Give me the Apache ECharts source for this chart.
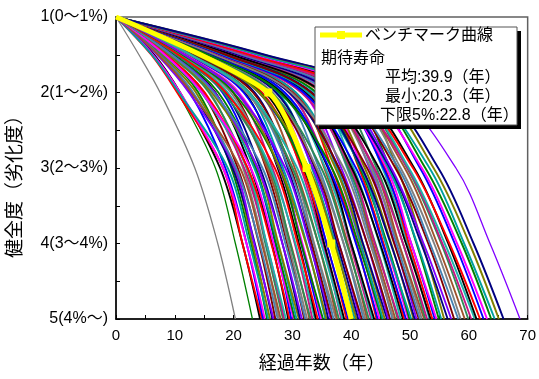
<!DOCTYPE html>
<html>
<head>
<meta charset="utf-8">
<script src="https://cdn.jsdelivr.net/npm/echarts@6.0.0/dist/echarts.min.js"></script>
<style>
  html, body { margin: 0; padding: 0; background: #fff; }
  #main { width: 539px; height: 379px; }
</style>
</head>
<body>
<div id="main"></div>
<script>
// 健全度 (y) の目盛とラベル
const tickGrades = [1, 2, 3, 4, 5];
const gradeLabels = ['1(0～1%)', '2(1～2%)', '3(2～3%)', '4(3～4%)', '5(4%～)'];

// ベンチマーク曲線: 健全度1～5 に達する経過年数
const benchmarkGrades = [1, 2, 3, 4, 5];
const benchmarkYears = [0, 25.9, 32.4, 36.6, 40.0];

// 各劣化曲線: 健全度 1.5, 2, 3, 4, 5 に達する年数 (健全度1 は0年)
const curveGrades = [1, 1.5, 2, 3, 4, 5];
const lifeCurves = [
  [3.9, 7.5, 13.4, 17.3, 20.3], [6.2, 10.5, 16.9, 20.3, 23.2], [24.3, 46.8, 57.8, 63.6, 68.7],
  [6.5, 10.9, 17.7, 21.5, 24.5], [6.0, 10.4, 18.2, 21.5, 24.8], [7.2, 12.6, 18.6, 22.2, 25.0], [6.3, 10.9, 18.2, 22.2, 25.3],
  [8.0, 14.0, 19.6, 23.0, 25.7], [6.1, 10.7, 19.0, 22.7, 25.9], [7.7, 13.6, 20.0, 23.2, 26.2], [7.4, 13.0, 19.8, 23.6, 26.6],
  [7.0, 12.4, 20.2, 23.5, 26.8], [8.3, 14.7, 20.7, 24.3, 27.1], [7.4, 13.1, 20.4, 24.4, 27.5], [9.1, 16.0, 21.6, 25.0, 27.7],
  [7.2, 12.8, 21.1, 24.8, 28.0], [8.9, 15.8, 22.2, 25.4, 28.4], [8.5, 15.0, 21.8, 25.6, 28.6], [8.2, 14.5, 22.3, 25.6, 28.9],
  [9.6, 16.9, 22.9, 26.5, 29.3], [8.5, 15.1, 22.4, 26.4, 29.5], [10.2, 18.1, 23.7, 27.1, 29.8],
  [8.3, 14.6, 22.9, 26.8, 30.2], [9.8, 17.4, 23.8, 27.2, 30.4], [9.4, 16.7, 23.5, 27.5, 30.7], [9.2, 16.3, 24.1, 27.6, 31.1],
  [10.4, 18.5, 24.5, 28.3, 31.3], [9.5, 16.8, 24.1, 28.3, 31.6], [11.2, 19.9, 25.5, 29.1, 32.0], [9.4, 16.6, 24.9, 28.8, 32.2],
  [11.0, 19.5, 25.9, 29.3, 32.5], [10.7, 18.9, 25.7, 29.7, 32.9], [10.3, 18.3, 26.1, 29.6, 33.1], [11.6, 20.6, 26.6, 30.4, 33.4],
  [10.7, 19.0, 26.3, 30.5, 33.8], [12.3, 21.9, 27.5, 31.1, 34.0], [10.6, 18.7, 27.0, 30.9, 34.3], [12.2, 21.7, 28.1, 31.5, 34.7],
  [11.8, 20.9, 27.7, 31.7, 34.9],
  [11.3, 20.0, 27.8, 31.5, 35.2], [12.6, 22.4, 28.4, 32.4, 35.6], [11.6, 20.6, 27.9, 32.3, 35.8], [13.3, 23.6, 29.2, 33.0, 36.1],
  [11.6, 20.5, 28.8, 32.9, 36.5], [13.1, 23.3, 29.7, 33.3, 36.7], [12.7, 22.6, 29.4, 33.6, 37.0], [12.5, 22.2, 30.0, 33.7, 37.4],
  [13.7, 24.4, 30.4, 34.4, 37.6], [12.8, 22.7, 30.0, 34.4, 37.9], [14.5, 25.8, 31.4, 35.2, 38.3], [12.7, 22.5, 30.8, 34.9, 38.5],
  [14.3, 25.4, 31.8, 35.4, 38.8], [14.0, 24.8, 31.6, 35.8, 39.2], [13.7, 24.3, 32.1, 35.8, 39.5], [14.9, 26.5, 32.5, 36.5, 39.7],
  [13.8, 24.5, 32.0, 36.6, 40.3], [15.5, 27.5, 33.3, 37.3, 40.6], [13.7, 24.3, 32.8, 37.1, 40.9], [15.3, 27.2, 33.8, 37.6, 41.2],
  [14.9, 26.5, 33.5, 37.9, 41.5], [14.6, 26.0, 34.0, 37.9, 41.8], [15.9, 28.3, 34.5, 38.7, 42.1], [15.0, 26.6, 34.1, 38.7, 42.4],
  [16.7, 29.6, 35.4, 39.4, 42.7], [14.9, 26.4, 34.9, 39.2, 43.0], [16.6, 29.4, 36.0, 39.8, 43.4], [16.1, 28.6, 35.6, 40.0, 43.6],
  [15.8, 28.1, 36.1, 40.0, 43.9], [17.2, 30.5, 36.7, 40.9, 44.3], [16.2, 28.7, 36.2, 40.8, 44.5], [17.9, 31.7, 37.5, 41.5, 44.8],
  [15.7, 27.8, 36.7, 41.2, 45.2], [17.2, 30.6, 37.6, 41.6, 45.4], [16.9, 29.9, 37.3, 41.9, 45.7], [16.6, 29.5, 37.9, 42.0, 46.1],
  [17.9, 31.7, 38.3, 42.7, 46.3], [16.9, 30.0, 37.9, 42.7, 46.6], [18.6, 33.1, 39.3, 43.5, 47.0], [16.8, 29.8, 38.7, 43.2, 47.2],
  [18.4, 32.7, 39.7, 43.7, 47.5], [18.1, 32.1, 39.5, 44.1, 47.9], [17.7, 31.5, 39.9, 44.0, 48.1], [19.0, 33.8, 40.4, 44.8, 48.4],
  [18.1, 32.2, 40.1, 44.9, 48.8], [19.8, 35.1, 41.3, 45.5, 49.0], [18.0, 31.9, 40.8, 45.3, 49.3], [19.7, 34.9, 41.9, 45.9, 49.7],
  [19.2, 34.1, 41.5, 46.1, 49.9],
  [18.4, 32.7, 41.7, 45.9, 50.2], [19.8, 35.1, 42.3, 46.8, 50.6], [18.8, 33.3, 41.8, 46.7, 50.8], [20.4, 36.3, 43.1, 47.4, 51.1],
  [18.7, 33.2, 42.7, 47.3, 51.5], [20.3, 36.0, 43.6, 47.7, 51.7], [19.9, 35.3, 43.3, 48.0, 52.0], [19.7, 34.9, 43.9, 48.1, 52.4],
  [20.9, 37.1, 44.3, 48.8, 52.6], [19.9, 35.4, 43.9, 48.8, 52.9], [21.7, 38.5, 45.3, 49.6, 53.3], [19.8, 35.2, 44.7, 49.3, 53.5],
  [21.5, 38.1, 45.7, 49.8, 53.8], [21.1, 37.5, 45.5, 50.2, 54.2], [20.8, 37.0, 46.0, 50.2, 54.5], [22.2, 39.4, 46.6, 51.1, 54.9],
  [21.3, 37.8, 46.3, 51.2, 55.3], [23.1, 41.0, 47.8, 52.1, 55.8],
  [20.8, 37.0, 46.6, 51.9, 56.4], [21.4, 38.0, 46.8, 52.3, 57.0], [21.6, 38.3, 47.5, 53.1, 57.5], [21.5, 38.2, 48.0, 53.4, 58.2],
  [22.4, 39.8, 48.4, 54.1, 58.6], [22.4, 39.7, 49.1, 54.6, 59.3], [22.8, 40.5, 49.5, 55.3, 59.9],
  [22.2, 39.4, 49.6, 55.5, 60.4], [22.9, 40.6, 49.8, 55.9, 61.0], [23.1, 41.1, 50.7, 56.5, 61.3], [22.8, 40.5, 50.5, 56.7, 61.9],
  [24.0, 42.7, 51.7, 57.6, 62.5], [23.8, 42.2, 52.0, 58.0, 63.1], [24.4, 43.3, 52.6, 58.8, 63.8], [24.3, 43.2, 53.3, 59.2, 64.4],
  [25.1, 44.5, 54.0, 60.1, 65.1], [25.3, 45.0, 54.8, 60.8, 65.9]
];

const specialColors = ['#808080', '#008000', '#8000ff'];
const palette = ['#000000', '#ff0000', '#0000ff', '#ff00ff', '#008000', '#00a0a0', '#808000', '#000080',
  '#8000ff', '#800000', '#4682b4', '#808080', '#a0522d', '#2e8b57', '#c71585', '#20b2aa'];

const FONT = "'Liberation Sans', 'Noto Sans CJK JP', sans-serif";

const chartDom = document.getElementById('main');
const myChart = echarts.init(chartDom);

const curveSeries = lifeCurves.map((years, i) => ({
  type: 'line',
  data: [[0, curveGrades[0]]].concat(years.map((t, k) => [t, curveGrades[k + 1]])),
  symbol: 'none',
  smooth: 0.35,
  silent: true,
  lineStyle: { width: i < 3 ? 1.3 : 1.9, color: i < 3 ? specialColors[i] : palette[(i - 3) % palette.length] },
  z: 2
}));

// ベンチマーク曲線(黄色, 最前面)
const benchmarkSeries = {
  type: 'line',
  name: 'ベンチマーク曲線',
  data: benchmarkYears.map((t, k) => ({
    value: [t, benchmarkGrades[k]],
    symbol: (k === 0 || k === benchmarkGrades.length - 1) ? 'none' : 'rect'
  })),
  smooth: 0.25,
  symbolSize: 8,
  silent: true,
  itemStyle: { color: '#ffff00' },
  lineStyle: { width: 5, color: '#ffff00' },
  z: 5
};

const option = {
  animation: false,
  grid: {
    left: 116, right: 11, top: 17, bottom: 60,
    show: true, borderColor: '#606060', borderWidth: 1.5
  },
  xAxis: {
    type: 'value',
    min: 0, max: 70, interval: 10,
    name: '経過年数（年）',
    nameLocation: 'middle',
    nameGap: 36,
    nameTextStyle: { fontFamily: FONT, fontSize: 18, color: '#000' },
    axisLine: { lineStyle: { color: '#000', width: 1.5 } },
    axisTick: { inside: true, length: 4, lineStyle: { color: '#000' } },
    minorTick: { show: true, splitNumber: 2, length: 4, lineStyle: { color: '#000' } },
    axisLabel: { fontFamily: FONT, fontSize: 15, color: '#000', margin: 9 },
    splitLine: { show: false }
  },
  yAxis: {
    type: 'value',
    inverse: true,
    min: 1, max: 5, interval: 1,
    axisLine: { show: true, lineStyle: { color: '#000', width: 1.5 } },
    axisTick: { show: true, inside: true, length: 4, lineStyle: { color: '#000' } },
    minorTick: { show: true, splitNumber: 2, length: 4, lineStyle: { color: '#000' } },
    axisLabel: {
      fontFamily: FONT, fontSize: 16, color: '#000', margin: 8,
      formatter: (v) => gradeLabels[tickGrades.indexOf(v)]
    },
    splitLine: { show: false }
  },
  graphic: [
    {
      type: 'text', x: 16, y: 182, rotation: Math.PI / 2,
      style: { text: '健全度（劣化度）', font: '19px ' + FONT, fill: '#000', align: 'center', verticalAlign: 'middle' }
    },
    { type: 'rect', shape: { x: 319, y: 31, width: 202, height: 98 }, style: { fill: '#000' }, z: 10 },
    { type: 'rect', shape: { x: 315, y: 27, width: 202, height: 98 }, style: { fill: '#fff', stroke: '#555', lineWidth: 1 }, z: 11 },
    { type: 'line', shape: { x1: 320, y1: 35, x2: 362, y2: 35 }, style: { stroke: '#ffff00', lineWidth: 5 }, z: 12 },
    { type: 'rect', shape: { x: 337, y: 31, width: 8, height: 8 }, style: { fill: '#ffff00' }, z: 13 },
    { type: 'text', x: 365, y: 36, z: 12, style: { text: 'ベンチマーク曲線', font: '16px ' + FONT, fill: '#000', verticalAlign: 'middle' } },
    { type: 'text', x: 321, y: 59, z: 12, style: { text: '期待寿命', font: '16px ' + FONT, fill: '#000', verticalAlign: 'middle' } },
    { type: 'text', x: 385, y: 78, z: 12, style: { text: '平均:39.9（年）', font: '16px ' + FONT, fill: '#000', verticalAlign: 'middle' } },
    { type: 'text', x: 385, y: 97, z: 12, style: { text: '最小:20.3（年）', font: '16px ' + FONT, fill: '#000', verticalAlign: 'middle' } },
    { type: 'text', x: 380, y: 116, z: 12, style: { text: '下限5%:22.8（年）', font: '16px ' + FONT, fill: '#000', verticalAlign: 'middle' } }
  ],
  series: curveSeries.concat([benchmarkSeries])
};

myChart.setOption(option);
</script>
</body>
</html>
